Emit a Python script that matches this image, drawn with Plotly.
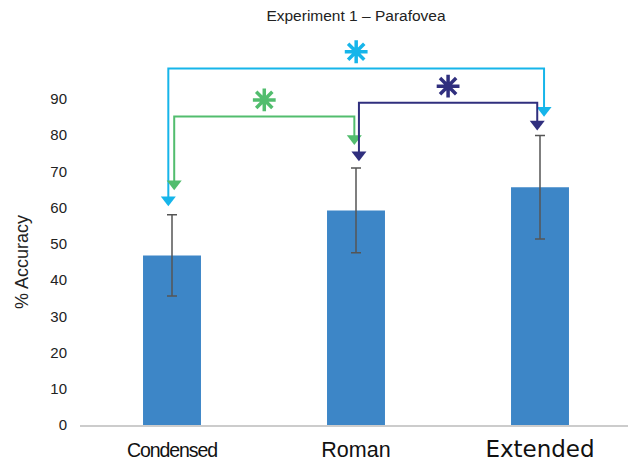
import plotly.graph_objects as go

# ---- data ----
categories = ["Condensed", "Roman", "Extended"]
accuracy = [46.8, 59.2, 65.6]
accuracy_err = [11.2, 11.7, 14.3]
y_ticks = [0, 10, 20, 30, 40, 50, 60, 70, 80, 90]

# significance comparisons (category index pairs)
comp_pairs = [(0, 2), (0, 1), (1, 2)]
comp_bracket_y = [98.4, 85.1, 88.9]
comp_tip_left = [60.4, 64.8, 72.8]
comp_tip_right = [85.1, 77.3, 81.3]

# ---- styling ----
comp_colors = ["#16b5ea", "#52bd6e", "#302f7e"]
comp_dx_left = [-0.02, 0.012, 0.016]
comp_dx_right = [0.022, -0.009, -0.015]
bar_color = "#3d86c7"

# the page body has an 8px margin, so the figure is 8px smaller each way
W, H = 628, 458
M_L, M_R, M_T, M_B = 72, 4, 26, 34
px_per_unit = (432 - 100) / 90.0
plot_h = H - M_T - M_B
y_top = plot_h / px_per_unit

tri_size = 13
tri_off = (tri_size / 2) / px_per_unit
star_off = 4.6

tick_labels = [
    "<span style='font-family:\"Liberation Sans Narrow\", \"Liberation Sans\", sans-serif;font-size:19.5px;letter-spacing:-1.1px'>" + categories[0] + "</span>",
    "<span style='font-family:\"Liberation Sans\", Arial, sans-serif;font-size:21.5px'>" + categories[1] + "</span>",
    "<span style='font-family:\"DejaVu Sans\", sans-serif;font-size:23px'>" + categories[2] + "</span>",
]

fig = go.Figure()
fig.add_trace(go.Bar(
    x=list(range(len(categories))), y=accuracy, width=0.315,
    marker=dict(color=bar_color, line=dict(width=0)),
    error_y=dict(type="data", array=accuracy_err, visible=True,
                 color="#555555", thickness=1.5, width=5),
    showlegend=False, hoverinfo="y",
))

for k, (a, b) in enumerate(comp_pairs):
    xl = a + comp_dx_left[k]
    xr = b + comp_dx_right[k]
    yb = comp_bracket_y[k]
    yl = comp_tip_left[k] + tri_off
    yr = comp_tip_right[k] + tri_off
    col = comp_colors[k]
    fig.add_trace(go.Scatter(
        x=[xl, xl, xr, xr], y=[yl, yb, yb, yr], mode="lines",
        line=dict(color=col, width=2), showlegend=False, hoverinfo="skip",
    ))
    fig.add_trace(go.Scatter(
        x=[xl, xr], y=[yl, yr], mode="markers",
        marker=dict(symbol="triangle-down", size=tri_size, color=col,
                    line=dict(width=0)),
        showlegend=False, hoverinfo="skip", cliponaxis=False,
    ))
    fig.add_trace(go.Scatter(
        x=[(xl + xr) / 2], y=[yb + star_off], mode="markers",
        marker=dict(symbol="asterisk-open", size=19, color=col,
                    line=dict(color=col, width=3.5)),
        showlegend=False, hoverinfo="skip", cliponaxis=False,
    ))

fig.update_layout(
    width=W, height=H,
    margin=dict(l=M_L, r=M_R, t=M_T, b=M_B),
    paper_bgcolor="white", plot_bgcolor="white",
    font=dict(family="Liberation Sans, Arial, sans-serif", color="#222222"),
    title=dict(text="Experiment 1 – Parafovea", x=(M_L + (W - M_R)) / 2 / W,
               xanchor="center", y=1 - 8 / H, yanchor="middle",
               font=dict(size=15.5, color="#222222")),
    xaxis=dict(range=[-0.5, 2.5], tickvals=[0, 1, 2], ticktext=tick_labels,
               showline=True, linecolor="#cccccc", linewidth=1.5,
               showgrid=False, zeroline=False, ticks="",
               tickfont=dict(size=21, color="#111111"), ticklabelstandoff=5),
    yaxis=dict(range=[0, y_top], tickvals=y_ticks, showgrid=False,
               zeroline=False, showline=False, ticks="",
               tickfont=dict(size=15, color="#222222"), ticklabelstandoff=12),
    annotations=[dict(text="% Accuracy", xref="paper", yref="y",
                      x=0, y=45, xshift=-58, xanchor="center", yanchor="middle",
                      textangle=-90,
                      showarrow=False, font=dict(size=18, color="#222222"))],
)

fig.write_html("out.html")
